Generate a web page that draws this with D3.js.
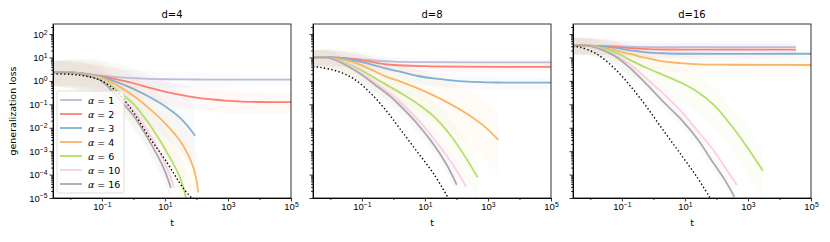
<!DOCTYPE html>
<html>
<head>
<meta charset="utf-8">
<script src="https://cdn.jsdelivr.net/npm/d3@7"></script>
<style>
  body { margin: 0; background: #fff; }
  svg { font-family: "DejaVu Sans", sans-serif; }
  .axis path, .axis line { stroke: #000; stroke-width: 0.8; }
  .axis text { font-size: 9.5px; fill: #000; }
</style>
</head>
<body>
<div id="chart"></div>
<script>
// values, stored as [log10 t, log10 loss]
var alphas = [1, 2, 3, 4, 6, 10, 16];
var dims = [4, 8, 16];
var colors = ["#bebada", "#fb8072", "#80b1d3", "#fdb462", "#b3de69", "#fccde5", "#aaaaaa"];
var xTickExps = [-1, 1, 3, 5];
var xMinorExps = [-2, 0, 2, 4];
var yTickExps = [-5, -4, -3, -2, -1, 0, 1, 2];

var lossD4 = [
  [[-2.55,0.38],[-2,0.36],[-1.5,0.3],[-1,0.22],[-0.5,0.16],[0,0.12],[0.5,0.09],[1,0.07],[2,0.06],[3,0.056],[5,0.056]],
  [[-2.55,0.38],[-2,0.36],[-1.5,0.3],[-1,0.19],[-0.5,0.05],[0,-0.1],[0.5,-0.29],[1,-0.46],[1.5,-0.6],[2,-0.71],[2.5,-0.79],[3,-0.85],[4,-0.9],[5,-0.91]],
  [[-2.55,0.38],[-2,0.36],[-1.5,0.3],[-1,0.16],[-0.5,-0.06],[0,-0.34],[0.5,-0.68],[1,-1.08],[1.5,-1.6],[1.96,-2.34]],
  [[-2.55,0.38],[-2,0.36],[-1.5,0.28],[-1,0.13],[-0.5,-0.2],[0,-0.63],[0.5,-1.17],[1,-1.8],[1.5,-2.6],[1.9,-3.69],[2.06,-4.76]],
  [[-2.55,0.38],[-2,0.35],[-1.5,0.26],[-1,0.09],[-0.5,-0.41],[0,-0.98],[0.5,-1.84],[1,-2.9],[1.48,-4.12],[1.67,-5]],
  [[-2.55,0.38],[-2,0.35],[-1.5,0.25],[-1,0.05],[-0.5,-0.56],[0,-1.27],[0.5,-2.26],[1,-3.5],[1.29,-4.54]],
  [[-2.55,0.38],[-2,0.35],[-1.5,0.24],[-1,-0.01],[-0.5,-0.7],[0,-1.48],[0.5,-2.55],[0.95,-3.69],[1.19,-4.57]]
];
var lossD8 = [
  [[-2.55,1.0],[-2,1.0],[-1.5,0.97],[-1,0.92],[-0.5,0.86],[0,0.82],[1,0.8],[5,0.79]],
  [[-2.55,1.0],[-2,1.0],[-1.5,0.96],[-1,0.88],[-0.5,0.76],[0,0.68],[1,0.63],[2,0.61],[5,0.6]],
  [[-2.55,1.0],[-2,1.0],[-1.5,0.95],[-1.27,0.88],[-0.74,0.72],[-0.21,0.52],[0.21,0.4],[0.74,0.22],[1.27,0.11],[2.33,-0.03],[3.5,-0.07],[5,-0.07]],
  [[-2.55,1.0],[-2,0.98],[-1.27,0.8],[-0.74,0.5],[-0.21,0.17],[0.21,-0.02],[0.74,-0.3],[1.27,-0.62],[1.8,-0.98],[2.33,-1.4],[2.85,-1.9],[3.33,-2.52]],
  [[-2.55,1.0],[-2,0.97],[-1.16,0.55],[-0.5,0.05],[-0.11,-0.25],[0.21,-0.5],[0.74,-0.95],[1.27,-1.5],[1.8,-2.3],[2.33,-3.35],[2.67,-4.12]],
  [[-2.55,1.0],[-2,0.97],[-1.16,0.47],[-0.5,-0.15],[-0.11,-0.55],[0.21,-0.9],[0.74,-1.6],[1.27,-2.45],[1.8,-3.4],[2.31,-4.52]],
  [[-2.55,1.0],[-2,0.97],[-1.16,0.4],[-0.5,-0.25],[-0.11,-0.65],[0.21,-1.05],[0.74,-1.8],[1.27,-2.7],[1.7,-3.6],[2.01,-4.44]]
];
var lossD16 = [
  [[-2.55,1.52],[-2,1.51],[-1.27,1.48],[-0.5,1.45],[0.5,1.44],[4.52,1.44]],
  [[-2.55,1.52],[-2,1.51],[-1.27,1.46],[-0.74,1.4],[0,1.35],[1,1.34],[4.52,1.34]],
  [[-2.55,1.52],[-2,1.51],[-1.27,1.42],[-0.74,1.3],[-0.21,1.22],[0.32,1.18],[1,1.16],[5,1.16]],
  [[-2.55,1.52],[-2,1.5],[-1.27,1.33],[-0.74,1.15],[-0.21,0.97],[0.32,0.83],[0.85,0.76],[1.5,0.71],[2.43,0.69],[5,0.68]],
  [[-2.55,1.52],[-2,1.5],[-1.27,1.25],[-0.74,0.9],[-0.21,0.55],[0.32,0.25],[0.85,-0.06],[1.38,-0.45],[1.9,-1.0],[2.43,-1.83],[2.96,-2.8],[3.47,-3.83]],
  [[-2.55,1.52],[-2,1.5],[-1.27,1.15],[-0.74,0.7],[-0.21,0.1],[0.32,-0.55],[0.85,-1.25],[1.38,-2.1],[1.9,-2.95],[2.3,-3.75],[2.65,-4.44]],
  [[-2.55,1.52],[-2,1.49],[-1.27,1.1],[-0.74,0.55],[-0.21,-0.15],[0.32,-0.9],[0.85,-1.6],[1.38,-2.45],[1.9,-3.5],[2.3,-4.3],[2.57,-4.95]]
];
// dotted black reference curve
var oracleD4 = [[-2.55,0.3],[-2,0.28],[-1.5,0.2],[-1,0.0],[-0.5,-0.5],[0,-1.34],[0.5,-2.4],[1,-3.35],[1.59,-4.6],[1.85,-5]];
var oracleD8 = [[-2.55,0.6],[-2.33,0.58],[-1.8,0.42],[-1.27,0.1],[-0.74,-0.5],[-0.21,-1.3],[0.21,-2.05],[0.74,-3.0],[1.27,-3.95],[1.74,-5]];
var oracleD16 = [[-2.55,1.46],[-2.33,1.44],[-1.8,1.15],[-1.27,0.58],[-0.74,-0.2],[-0.21,-1.12],[0.32,-2.12],[0.85,-3.1],[1.38,-4.1],[1.8,-5]];
// half-width (decades) of the faint run cloud at start / end of each curve
var spreadD4 = [[0.6,0.3],[0.6,0.5],[0.6,1.5],[0.6,1.5],[0.6,1.2],[0.6,0.8],[0.6,0.6]];
var spreadD8 = [[0.4,0.2],[0.4,0.2],[0.4,0.3],[0.4,1.5],[0.4,1.0],[0.4,0.5],[0.4,0.4]];
var spreadD16 = [[0.4,0.3],[0.4,0.3],[0.4,0.2],[0.4,0.4],[0.4,1.2],[0.4,0.4],[0.4,0.3]];

var panels = [
  { d: dims[0], loss: lossD4, oracle: oracleD4, spread: spreadD4 },
  { d: dims[1], loss: lossD8, oracle: oracleD8, spread: spreadD8 },
  { d: dims[2], loss: lossD16, oracle: oracleD16, spread: spreadD16 }
];

var W = 830, H = 242,
    plotW = 238, plotH = 174,
    marginTop = 24,
    lefts = [53, 313, 573];

var svg = d3.select("#chart").append("svg")
    .attr("width", W).attr("height", H);

var x = d3.scaleLog().domain([Math.pow(10, -2.55), 1e5]).range([0, plotW]);
var y = d3.scaleLog().domain([1e-5, Math.pow(10, 2.43)]).range([plotH, 0]);

var line = d3.line()
    .curve(d3.curveCatmullRom.alpha(0.5))
    .x(function(p) { return x(Math.pow(10, p[0])); })
    .y(function(p) { return y(Math.pow(10, p[1])); });

function supLabel(sel) {
  sel.each(function(e) {
    var t = d3.select(this);
    t.text("10");
    t.append("tspan")
      .attr("dy", "-0.45em")
      .style("font-size", "6.8px")
      .text(String(e).replace("-", "\u2212"));
  });
}

panels.forEach(function(pn, pi) {
  var g = svg.append("g").attr("transform", "translate(" + lefts[pi] + "," + marginTop + ")");

  g.append("clipPath").attr("id", "clip" + pi)
    .append("rect").attr("width", plotW).attr("height", plotH);

  var body = g.append("g").attr("clip-path", "url(#clip" + pi + ")");

  // faint cloud of individual runs
  pn.loss.forEach(function(pts, i) {
    var s0 = pn.spread[i][0], s1 = pn.spread[i][1], n = pts.length - 1;
    var area = d3.area()
      .curve(d3.curveCatmullRom.alpha(0.5))
      .x(function(p) { return x(Math.pow(10, p[0])); })
      .y0(function(p, k) { return y(Math.pow(10, p[1] - (s0 + (s1 - s0) * k / n))); })
      .y1(function(p, k) { return y(Math.pow(10, p[1] + (s0 + (s1 - s0) * k / n) * 0.8)); });
    body.append("path")
      .attr("d", area(pts))
      .attr("fill", colors[i])
      .attr("fill-opacity", 0.06);
  });

  body.selectAll("path.mean")
    .data(pn.loss)
    .enter().append("path")
    .attr("class", "mean")
    .attr("d", line)
    .attr("fill", "none")
    .attr("stroke", function(p, i) { return colors[i]; })
    .attr("stroke-width", 1.8);

  body.append("path")
    .attr("d", line(pn.oracle))
    .attr("fill", "none")
    .attr("stroke", "#000")
    .attr("stroke-width", 1.4)
    .attr("stroke-dasharray", "1.4,2.3");

  // axes
  var xAxis = g.append("g").attr("class", "axis")
    .attr("transform", "translate(0," + plotH + ")")
    .call(d3.axisBottom(x).tickValues(xTickExps.map(function(e) { return Math.pow(10, e); }))
      .tickSize(3.5).tickPadding(2).tickSizeOuter(0));
  xAxis.selectAll(".tick text").data(xTickExps).call(supLabel);
  g.append("g").attr("class", "axis")
    .attr("transform", "translate(0," + plotH + ")")
    .call(d3.axisBottom(x).tickValues(xMinorExps.map(function(e) { return Math.pow(10, e); }))
      .tickSize(2).tickFormat("").tickSizeOuter(0));

  var yMinor = [];
  yTickExps.forEach(function(e) {
    for (var m = 2; m <= 9; m++) {
      var v = m * Math.pow(10, e);
      if (v < Math.pow(10, 2.43)) yMinor.push(v);
    }
  });
  var yAxis = g.append("g").attr("class", "axis")
    .call(d3.axisLeft(y).tickValues(yTickExps.map(function(e) { return Math.pow(10, e); }))
      .tickSize(3.5).tickPadding(2).tickSizeOuter(0));
  if (pi === 0) {
    yAxis.selectAll(".tick text").data(yTickExps).call(supLabel);
  } else {
    yAxis.selectAll(".tick text").remove();
  }
  g.append("g").attr("class", "axis")
    .call(d3.axisLeft(y).tickValues(yMinor).tickSize(2).tickFormat("").tickSizeOuter(0));

  g.append("rect")
    .attr("width", plotW).attr("height", plotH)
    .attr("fill", "none").attr("stroke", "#000").attr("stroke-width", 0.8);

  g.append("text")
    .attr("x", plotW / 2).attr("y", -6)
    .attr("text-anchor", "middle")
    .style("font-size", "10px")
    .text("d=" + pn.d);

  g.append("text")
    .attr("x", plotW / 2).attr("y", plotH + 28)
    .attr("text-anchor", "middle")
    .style("font-size", "9.5px")
    .text("t");

  if (pi === 0) {
    g.append("text")
      .attr("transform", "translate(-37," + (plotH / 2) + ") rotate(-90)")
      .attr("text-anchor", "middle")
      .style("font-size", "9.5px")
      .text("generalization loss");

    var lg = g.append("g").attr("transform", "translate(4,67)");
    lg.append("rect")
      .attr("width", 67).attr("height", 102)
      .attr("rx", 2)
      .attr("fill", "#fff").attr("fill-opacity", 0.8)
      .attr("stroke", "#d5d5d5").attr("stroke-width", 0.8);
    var item = lg.selectAll("g.item")
      .data(alphas)
      .enter().append("g")
      .attr("class", "item")
      .attr("transform", function(a, i) { return "translate(0," + (9 + i * 14) + ")"; });
    item.append("line")
      .attr("x1", 3).attr("x2", 25)
      .attr("stroke", function(a, i) { return colors[i]; })
      .attr("stroke-width", 1.8);
    var lt = item.append("text")
      .attr("x", 31).attr("y", 3.5)
      .style("font-size", "9.5px");
    lt.append("tspan").style("font-style", "italic").text("\u03b1");
    lt.append("tspan").text(function(a) { return " = " + a; });
  }
});
</script>
</body>
</html>
